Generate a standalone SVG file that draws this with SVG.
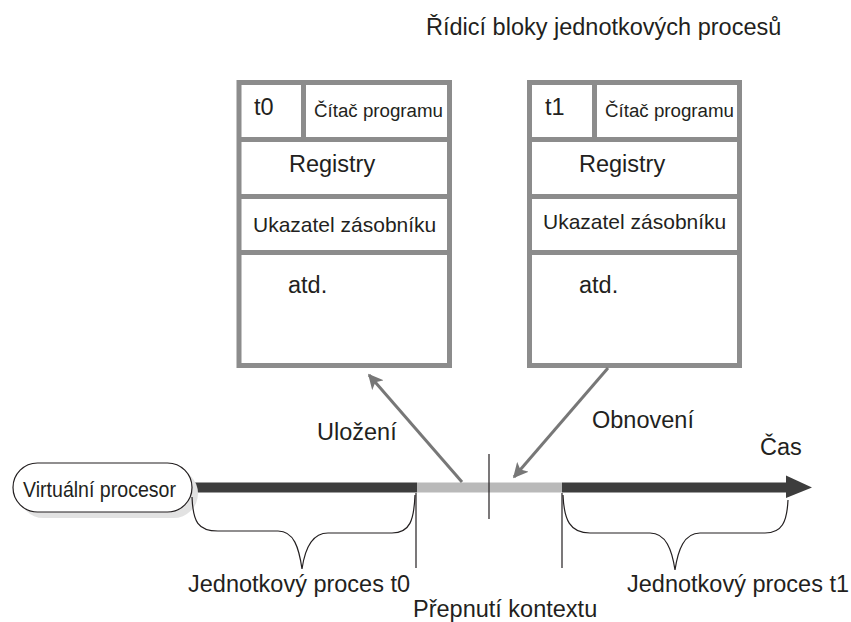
<svg xmlns="http://www.w3.org/2000/svg" width="851" height="622" viewBox="0 0 851 622">
  <style>
    text { font-family: "Liberation Sans", Arial, sans-serif; fill: #231f20; }
    .lbl { font-size: 23.5px; }
    .pc { font-size: 18px; }
    .sp { font-size: 21px; }
    .vp { font-size: 22.5px; }
    .pcb { fill: #ffffff; stroke: #8c8c8c; stroke-width: 5; }
    .div { stroke: #8c8c8c; stroke-width: 5; fill: none; }
    .thin { stroke: #231f20; stroke-width: 1.2; fill: none; }
    .io { stroke: #777777; stroke-width: 3; fill: none; }
  </style>
  <defs>
    <marker id="ioHead" viewBox="0 0 10 10" refX="9" refY="5" markerWidth="5" markerHeight="5" orient="auto" markerUnits="strokeWidth">
      <path d="M0,0 L10,5 L0,10 L2.5,5 Z" fill="#777777"/>
    </marker>
  </defs>

  <rect width="851" height="622" fill="#ffffff"/>

  <!-- heading -->
  <text class="lbl" x="426" y="35">Řídicí bloky jednotkových procesů</text>

  <!-- process control block of t0 -->
  <g id="pcb-t0">
    <rect class="pcb" x="239" y="82.5" width="210.5" height="283"/>
    <line class="div" x1="239" y1="139.5" x2="449.5" y2="139.5"/>
    <line class="div" x1="239" y1="196.5" x2="449.5" y2="196.5"/>
    <line class="div" x1="239" y1="252.5" x2="449.5" y2="252.5"/>
    <line class="div" x1="303.5" y1="82.5" x2="303.5" y2="139.5"/>
    <text class="lbl" x="254" y="115">t0</text>
    <text class="pc" x="314" y="117" textLength="129" lengthAdjust="spacingAndGlyphs">Čítač programu</text>
    <text class="lbl" x="289" y="172">Registry</text>
    <text class="sp" x="253" y="232">Ukazatel zásobníku</text>
    <text class="lbl" x="288" y="293">atd.</text>
  </g>

  <!-- process control block of t1 -->
  <g id="pcb-t1">
    <rect class="pcb" x="529.5" y="82.5" width="210" height="283"/>
    <line class="div" x1="529.5" y1="139.5" x2="739.5" y2="139.5"/>
    <line class="div" x1="529.5" y1="196.5" x2="739.5" y2="196.5"/>
    <line class="div" x1="529.5" y1="252.5" x2="739.5" y2="252.5"/>
    <line class="div" x1="594.5" y1="82.5" x2="594.5" y2="139.5"/>
    <text class="lbl" x="545" y="115">t1</text>
    <text class="pc" x="605" y="117" textLength="129" lengthAdjust="spacingAndGlyphs">Čítač programu</text>
    <text class="lbl" x="579" y="172">Registry</text>
    <text class="sp" x="543" y="229">Ukazatel zásobníku</text>
    <text class="lbl" x="579" y="293">atd.</text>
  </g>

  <!-- time axis -->
  <g id="timeline">
    <rect x="186" y="482.5" width="231" height="10" fill="#3d3d3d"/>
    <rect x="417" y="482.5" width="145" height="10" fill="#b9b9b9"/>
    <rect x="562" y="482.5" width="226" height="10" fill="#3d3d3d"/>
    <polygon points="786,475.5 812,487.5 786,498" fill="#3d3d3d"/>
    <text class="lbl" x="760" y="455">Čas</text>
  </g>

  <!-- virtual processor -->
  <g id="virtual-processor">
    <rect x="19" y="469" width="179" height="49" rx="24.5" fill="#e2e2e2"/>
    <rect x="13" y="463" width="179" height="49" rx="24.5" fill="#ffffff" stroke="#231f20" stroke-width="1.2"/>
    <text class="vp" x="23" y="496.5" textLength="153" lengthAdjust="spacingAndGlyphs">Virtuální procesor</text>
  </g>

  <!-- connectors: save / restore -->
  <g id="connectors">
    <line class="io" x1="462" y1="482" x2="369" y2="375" marker-end="url(#ioHead)"/>
    <line class="io" x1="608" y1="368" x2="514" y2="477" marker-end="url(#ioHead)"/>
    <text class="lbl" x="317" y="440">Uložení</text>
    <text class="lbl" x="592" y="428">Obnovení</text>
  </g>

  <!-- context switch markers -->
  <g id="context-switch">
    <line class="thin" x1="489" y1="454" x2="489" y2="519"/>
    <line class="thin" x1="416" y1="493" x2="416" y2="568"/>
    <line class="thin" x1="562" y1="493" x2="562" y2="568"/>
    <text class="lbl" x="413" y="617">Přepnutí kontextu</text>
  </g>

  <!-- interval of t0 -->
  <g id="interval-t0">
    <path class="thin" d="M192,497 C193,522 198,531 218,531 L278,531 C294,531 299,548 302,569 C305,548 312,533 328,533 L392,533 C410,533 414,520 415,495"/>
    <text class="lbl" x="188" y="592">Jednotkový proces t0</text>
  </g>

  <!-- interval of t1 -->
  <g id="interval-t1">
    <path class="thin" d="M563,495 C564,520 570,533 590,533 L650,533 C666,533 672,550 675,570 C678,550 684,533 700,533 L765,533 C782,533 787,522 788,500"/>
    <text class="lbl" x="627" y="592">Jednotkový proces t1</text>
  </g>
</svg>
